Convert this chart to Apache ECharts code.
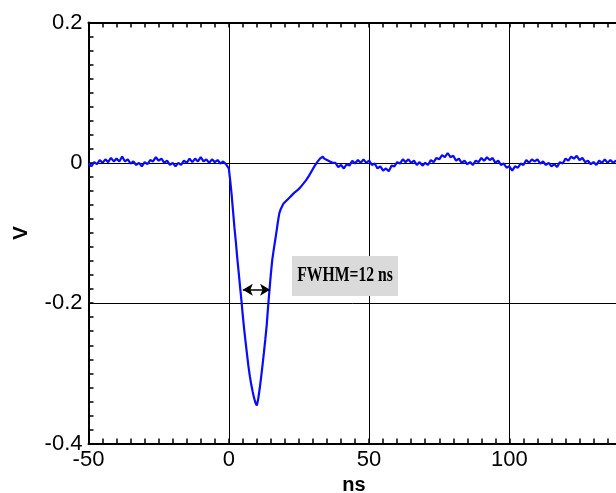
<!DOCTYPE html>
<html>
<head>
<meta charset="utf-8">
<script src="https://cdn.jsdelivr.net/npm/echarts@6/dist/echarts.min.js"></script>
<style>
html,body{margin:0;padding:0;background:#fff;}
#chart{width:616px;height:493px;}
</style>
</head>
<body>
<div id="chart"></div>
<script>
// ---- data ----
const timeNs = [
  -50,-49,-48,-47,-46,-45,-44,-43,-42,-41,-40,-39,-38,-37,-36,-35,-34,-33,-32,-31,
  -30,-29,-28,-27,-26,-25,-24,-23,-22,-21,-20,-19,-18,-17,-16,-15,-14,-13,-12,-11,
  -10,-9,-8,-7,-6,-5,-4,-3,-2,-1,-0.5,
  0,0.5,1,1.5,2,2.5,3,3.5,4,4.5,5,5.5,6,6.5,7,7.5,8,8.5,9,9.5,
  10,10.5,11,11.5,12,12.5,13,13.5,14,14.5,15,15.5,16,16.5,17,17.5,18,18.5,19,19.5,
  20,20.5,21,21.5,22,22.5,23,23.5,24,24.5,25,25.5,26,26.5,27,27.5,28,28.5,29,29.5,
  30,30.5,31,31.5,32,32.5,33,33.5,34,34.5,35,35.5,36,36.5,37,
  38,39,40,41,42,43,44,45,46,47,48,49,50,51,52,53,54,55,56,57,58,59,60,
  61,62,63,64,65,66,67,68,69,70,71,72,73,74,75,76,77,78,79,80,
  81,82,83,84,85,86,87,88,89,90,91,92,93,94,95,96,97,98,99,100,
  101,102,103,104,105,106,107,108,109,110,111,112,113,114,115,116,117,118,119,120,
  121,122,123,124,125,126,127,128,129,130,131,132,133,134,135,136,137,138,139,140
];
const voltage = [
  -0.001,-0.005,0.001,-0.002,0.004,0.000,0.005,0.001,0.007,0.002,0.006,0.002,0.009,0.002,0.005,-0.001,0.002,-0.003,0.000,-0.005,
  0.001,-0.002,0.004,0.002,0.008,0.003,0.006,0.000,0.003,-0.003,0.000,-0.005,0.000,-0.003,0.003,0.000,0.006,0.001,0.006,0.002,
  0.008,0.002,0.005,0.000,0.005,0.001,0.004,-0.001,0.002,-0.002,0.000,
  -0.008,-0.025,-0.045,-0.068,-0.092,-0.112,-0.135,-0.155,-0.176,-0.196,-0.218,-0.238,-0.256,-0.273,-0.290,-0.304,-0.316,-0.326,-0.335,-0.342,
  -0.346,-0.336,-0.322,-0.306,-0.289,-0.271,-0.252,-0.232,-0.205,-0.181,-0.158,-0.138,-0.124,-0.111,-0.098,-0.084,-0.072,-0.066,-0.062,-0.058,
  -0.058,-0.054,-0.054,-0.050,-0.050,-0.046,-0.046,-0.042,-0.043,-0.039,-0.039,-0.035,-0.035,-0.030,-0.030,-0.025,-0.025,-0.019,-0.019,-0.012,
  -0.011,-0.005,-0.004,0.001,0.002,0.006,0.005,0.009,0.006,0.008,0.004,0.006,0.002,0.003,0.000,
  0.000,-0.006,-0.003,-0.008,-0.002,-0.004,0.003,-0.001,0.004,0.000,0.005,0.000,0.003,-0.003,-0.001,-0.008,-0.005,-0.011,-0.008,-0.012,-0.004,-0.005,0.001,
  -0.001,0.005,0.001,0.005,0.000,0.003,-0.003,0.001,-0.004,0.000,-0.003,0.004,0.001,0.007,0.005,0.011,0.008,0.014,0.008,0.010,
  0.003,0.006,0.000,0.003,-0.002,0.001,-0.003,0.003,0.001,0.007,0.003,0.008,0.004,0.007,0.000,0.003,-0.003,-0.001,-0.007,-0.005,
  -0.011,-0.005,-0.007,-0.001,-0.003,0.004,0.000,0.005,0.002,0.005,-0.001,0.002,-0.003,0.000,-0.005,-0.002,-0.006,0.001,-0.001,0.006,
  0.003,0.009,0.006,0.010,0.004,0.007,0.001,0.003,-0.002,0.001,-0.003,0.003,0.000,0.005,0.000,0.004,0.000,0.003,-0.001,0.003
];
const xTicks = [-50, 0, 50, 100, 150];
const yTicks = [-0.4, -0.2, 0, 0.2];
const fwhmArrow = [[5.0, -0.181], [14.7, -0.181]];
const fwhmText = 'FWHM=12 ns';

const chart = echarts.init(document.getElementById('chart'), null, {renderer: 'canvas'});
const pts = timeNs.map((t, i) => [t, voltage[i]]);
const labelFont = {fontFamily: '"Liberation Sans", Arial, sans-serif', fontSize: 22, color: '#000'};

const baseX = {
  type: 'value',
  min: xTicks[0], max: xTicks[xTicks.length - 1], interval: 50,
  axisLine: {show: true, onZero: false, lineStyle: {color: '#000', width: 2}},
  axisTick: {show: true, inside: true, length: 5, lineStyle: {color: '#000', width: 1.5}},
  minorTick: {show: true, splitNumber: 10, length: 5, lineStyle: {color: '#000', width: 1.5}}
};

chart.setOption({
  animation: false,
  backgroundColor: '#fff',
  grid: {left: 88.5, top: 22.5, right: -33.7, bottom: 49.5, containLabel: false, outerBoundsMode: 'none'},
  xAxis: [
    Object.assign({}, baseX, {
      position: 'bottom',
      axisLabel: Object.assign({margin: 5}, labelFont),
      splitLine: {show: true, lineStyle: {color: '#000', width: 1}}
    }),
    Object.assign({}, baseX, {
      position: 'top',
      axisLabel: {show: false},
      splitLine: {show: false}
    })
  ],
  yAxis: {
    type: 'value',
    min: yTicks[0], max: yTicks[yTicks.length - 1], interval: 0.2,
    name: 'V', nameLocation: 'middle', nameRotate: 90, nameGap: 57,
    nameTextStyle: {fontFamily: '"Liberation Sans", Arial, sans-serif', fontSize: 21, fontWeight: 'bold', color: '#000'},
    axisLine: {show: true, onZero: false, lineStyle: {color: '#000', width: 2}},
    axisTick: {show: true, inside: true, length: 5, lineStyle: {color: '#000', width: 1.5}},
    minorTick: {show: true, splitNumber: 10, length: 5, lineStyle: {color: '#000', width: 1.5}},
    axisLabel: Object.assign({margin: 6, formatter: v => String(Math.round(v * 10) / 10)}, labelFont),
    splitLine: {show: true, lineStyle: {color: '#000', width: 1}}
  },
  series: [{
    type: 'line',
    xAxisIndex: 0,
    data: pts,
    showSymbol: false,
    symbol: 'none',
    lineStyle: {color: '#0a0aff', width: 2.2},
    markLine: {
      silent: true,
      symbol: ['arrow', 'arrow'],
      symbolSize: [9, 10],
      label: {show: false},
      lineStyle: {color: '#000', width: 1.5, type: 'solid'},
      data: [[{coord: fwhmArrow[0]}, {coord: fwhmArrow[1]}]]
    }
  }],
  graphic: [
    {type: 'rect', shape: {x: 292, y: 256, width: 106, height: 40}, style: {fill: '#dadada'}, z: 100},
    {type: 'text', x: 345, y: 276, z: 101, scaleY: 1.25, scaleX: 0.98,
     style: {text: fwhmText, font: 'bold 16px "Liberation Serif", "Times New Roman", serif', fill: '#000', align: 'center', verticalAlign: 'middle'}},
    {type: 'text', x: 354, y: 485, z: 101,
     style: {text: 'ns', font: 'bold 20px "Liberation Sans", Arial, sans-serif', fill: '#000', align: 'center', verticalAlign: 'middle'}}
  ]
});
</script>
</body>
</html>
